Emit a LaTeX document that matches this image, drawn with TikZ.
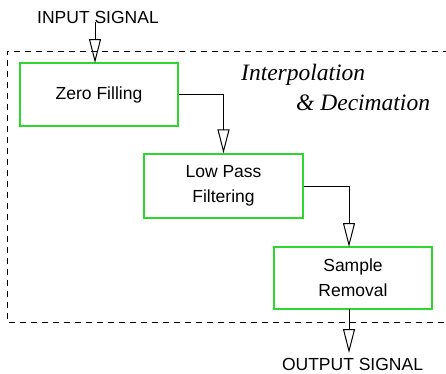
\documentclass[tikz,border=0pt]{standalone}
\usepackage{fontspec}
\setmainfont{Liberation Sans}
\newfontfamily\serifit{Liberation Serif}
\usetikzlibrary{arrows.meta}
\definecolor{boxgreen}{RGB}{45,215,45}
\begin{document}
\begin{tikzpicture}[x=1pt,y=-1pt,
  stage/.style={draw=boxgreen,line width=1.3pt,rectangle,align=center,inner sep=0pt,
    font=\fontsize{17.5}{25}\selectfont},
  lbl/.style={font=\fontsize{17.5}{21}\selectfont,inner sep=0pt,anchor=base},
  flow/.style={line width=1pt,-{Triangle[open,length=24pt,width=12pt,line width=1pt]}},
  link/.style={line width=1pt}]
\useasboundingbox (0,0) rectangle (446,373);
\fill[white] (0,0) rectangle (446,373);
% dashed enclosure
\draw[dash pattern=on 6pt off 5pt,line width=1pt] (460,51) -- (7,51) -- (7,322) -- (460,322);
% stages
\node[stage,minimum width=158pt,minimum height=63pt] (zf) at (99,94.5) {Zero Filling};
\node[stage,minimum width=159pt,minimum height=64pt] (lp) at (223.5,186) {Low Pass\\Filtering};
\node[stage,minimum width=158pt,minimum height=62pt] (sr) at (353,278) {Sample\\Removal};
% labels
\node[lbl] (in) at (98,23) {INPUT SIGNAL};
\node[lbl] (out) at (352.5,370) {OUTPUT SIGNAL};
\node[font=\serifit\itshape\fontsize{23.5}{28}\selectfont,inner sep=0pt,anchor=base west] (t1) at (241,80) {Interpolation};
\node[font=\serifit\itshape\fontsize{23.5}{28}\selectfont,inner sep=0pt,anchor=base west] (t2) at (296,110) {\&\ Decimation};
% connectors
\coordinate (inA) at (95,22);
\coordinate (inB) at (95,63);
\draw[flow] (inA) -- (inB);
\draw[flow] (zf.east) -| (lp.north);
\coordinate (srN) at (349,247);
\draw[flow] (lp.east) -| (srN);
\coordinate (srS) at (349,309);
\coordinate (outT) at (349,353);
\draw[flow] (srS) -- (outT);
\end{tikzpicture}
\end{document}
